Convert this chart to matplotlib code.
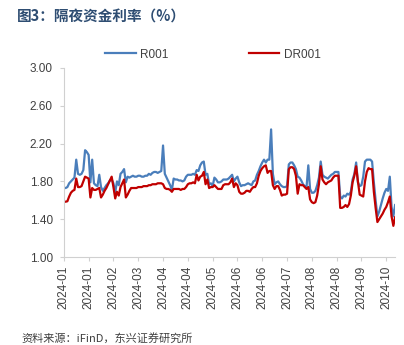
import numpy as np
import matplotlib.pyplot as plt

plt.rcParams['font.family'] = ['Liberation Sans', 'Noto Sans CJK SC', 'DejaVu Sans']

# daily overnight rates, 2024-01 .. 2024-10 (%)
r001 = [1.73, 1.73, 1.74, 1.78, 1.80, 1.82, 1.84, 2.03, 1.88, 1.87,
        1.88, 1.92, 2.13, 2.11, 2.08, 1.79, 2.03, 1.78, 1.76, 1.75,
        1.87, 1.74, 1.70, 1.73, 1.76, 1.78, 1.81, 1.82, 1.78, 1.68,
        1.80, 1.76, 1.88, 1.90, 1.93, 1.79, 1.85, 1.84, 1.85, 1.86,
        1.85, 1.85, 1.86, 1.86, 1.85, 1.85, 1.86, 1.86, 1.88, 1.87,
        1.89, 1.90, 1.90, 1.89, 1.90, 1.91, 2.18, 1.88, 1.84, 1.80,
        1.76, 1.71, 1.83, 1.82, 1.82, 1.81, 1.81, 1.80, 1.81, 1.85,
        1.87, 1.87, 1.87, 1.88, 1.87, 1.92, 1.91, 1.97, 2.00, 2.01,
        1.87, 1.88, 1.77, 1.78, 1.75, 1.84, 1.82, 1.79, 1.79, 1.80,
        1.82, 1.82, 1.82, 1.83, 1.85, 1.87, 1.80, 1.83, 1.85, 1.79,
        1.75, 1.76, 1.76, 1.77, 1.78, 1.77, 1.76, 1.80, 1.81, 1.87,
        1.91, 1.96, 2.00, 2.03, 2.00, 2.03, 2.03, 2.35, 1.88, 1.77,
        1.79, 1.80, 1.77, 1.75, 1.74, 1.74, 1.75, 1.98, 2.00, 2.00,
        1.97, 1.93, 1.85, 1.84, 1.81, 1.77, 1.75, 1.74, 1.97, 1.72,
        1.68, 1.68, 1.70, 1.76, 1.84, 2.01, 1.87, 1.85, 1.84, 1.83,
        1.85, 1.87, 1.88, 1.90, 1.90, 1.90, 1.64, 1.62, 1.65, 1.64,
        1.67, 1.66, 1.69, 1.82, 1.88, 2.00, 1.79, 1.75, 1.76, 1.85,
        2.01, 2.03, 2.03, 2.03, 2.01, 1.79, 1.60, 1.43, 1.48, 1.55,
        1.62, 1.68, 1.72, 1.70, 1.85, 1.53, 1.43, 1.55]

dr001 = [1.585, 1.585, 1.59, 1.64, 1.68, 1.70, 1.71, 1.83, 1.74, 1.74,
         1.75, 1.80, 1.85, 1.84, 1.83, 1.63, 1.73, 1.71, 1.71, 1.72,
         1.73, 1.63, 1.66, 1.70, 1.73, 1.77, 1.81, 1.85, 1.74, 1.62,
         1.69, 1.65, 1.74, 1.78, 1.82, 1.63, 1.66, 1.70, 1.73, 1.73,
         1.73, 1.73, 1.74, 1.74, 1.74, 1.75, 1.75, 1.75, 1.76, 1.76,
         1.77, 1.77, 1.77, 1.78, 1.78, 1.78, 1.77, 1.73, 1.72, 1.72,
         1.71, 1.69, 1.72, 1.72, 1.72, 1.72, 1.71, 1.72, 1.72, 1.74,
         1.77, 1.78, 1.78, 1.79, 1.78, 1.87, 1.81, 1.85, 1.86, 1.90,
         1.77, 1.82, 1.73, 1.74, 1.74, 1.76, 1.74, 1.72, 1.72, 1.72,
         1.76, 1.77, 1.77, 1.77, 1.79, 1.83, 1.74, 1.78, 1.76, 1.69,
         1.67, 1.67, 1.68, 1.70, 1.70, 1.69, 1.72, 1.74, 1.74, 1.78,
         1.86, 1.91, 1.94, 1.96, 1.97, 1.89, 1.91, 1.91, 1.76, 1.72,
         1.75, 1.75, 1.71, 1.65, 1.66, 1.66, 1.67, 1.93, 1.95, 1.95,
         1.93, 1.86, 1.67, 1.77, 1.76, 1.76, 1.74, 1.72, 1.74, 1.61,
         1.58, 1.57, 1.58, 1.65, 1.77, 1.96, 1.82, 1.79, 1.77, 1.79,
         1.80, 1.81, 1.84, 1.86, 1.86, 1.86, 1.52, 1.52, 1.53, 1.55,
         1.53, 1.56, 1.65, 1.79, 1.86, 1.96, 1.80, 1.66, 1.65, 1.64,
         1.80, 1.90, 1.94, 1.93, 1.93, 1.69, 1.52, 1.37, 1.40, 1.43,
         1.46, 1.50, 1.53, 1.58, 1.64, 1.43, 1.33, 1.42]

tick_labels = ['2024-01', '2024-01', '2024-02', '2024-03', '2024-04', '2024-04',
               '2024-05', '2024-06', '2024-06', '2024-07', '2024-08', '2024-08',
               '2024-09', '2024-10']
tick_step = 14

fig = plt.figure(figsize=(4.04, 3.45), dpi=100)
ax = fig.add_axes([0.158, 0.255, 0.82, 0.548])

x = np.arange(len(r001))
ax.plot(x, r001, color='#4a7ebb', lw=1.6, label='R001')
ax.plot(x, dr001, color='#c00000', lw=1.6, label='DR001')

ax.set_xlim(0, len(r001) - 1)
ax.set_ylim(1.0, 3.0)
ax.set_yticks(np.arange(1.0, 3.01, 0.4))
ax.set_yticklabels([f'{v:.2f}' for v in np.arange(1.0, 3.01, 0.4)])
ax.set_xticks(np.arange(len(tick_labels)) * tick_step)
ax.set_xticklabels(tick_labels, rotation=90)

for s in ['top', 'right']:
    ax.spines[s].set_visible(False)
for s in ['left', 'bottom']:
    ax.spines[s].set_color('#d0d0d0')
ax.tick_params(axis='y', colors='#d0d0d0', labelcolor='#404040', labelsize=8.5,
               length=3, pad=5)
ax.tick_params(axis='x', colors='#d0d0d0', labelcolor='#404040', labelsize=8.5,
               length=3, pad=3)

fig.legend(loc='upper center', bbox_to_anchor=(0.527, 0.89), ncol=2, frameon=False,
           fontsize=8.5, handlelength=2.6, handletextpad=0.35, columnspacing=6.8,
           labelcolor='#404040')

fig.text(0.042, 0.952, '图3：隔夜资金利率（%）', fontsize=10.5, fontweight='bold',
         color='#2e4d72', va='center', family=['Noto Sans CJK SC', 'DejaVu Sans'])
fig.text(0.054, 0.018, '资料来源：iFinD，东兴证券研究所', fontsize=8, style='italic',
         color='#404040', va='center', family=['Noto Sans CJK SC', 'DejaVu Sans'])

fig.savefig('out.png', dpi=100)
